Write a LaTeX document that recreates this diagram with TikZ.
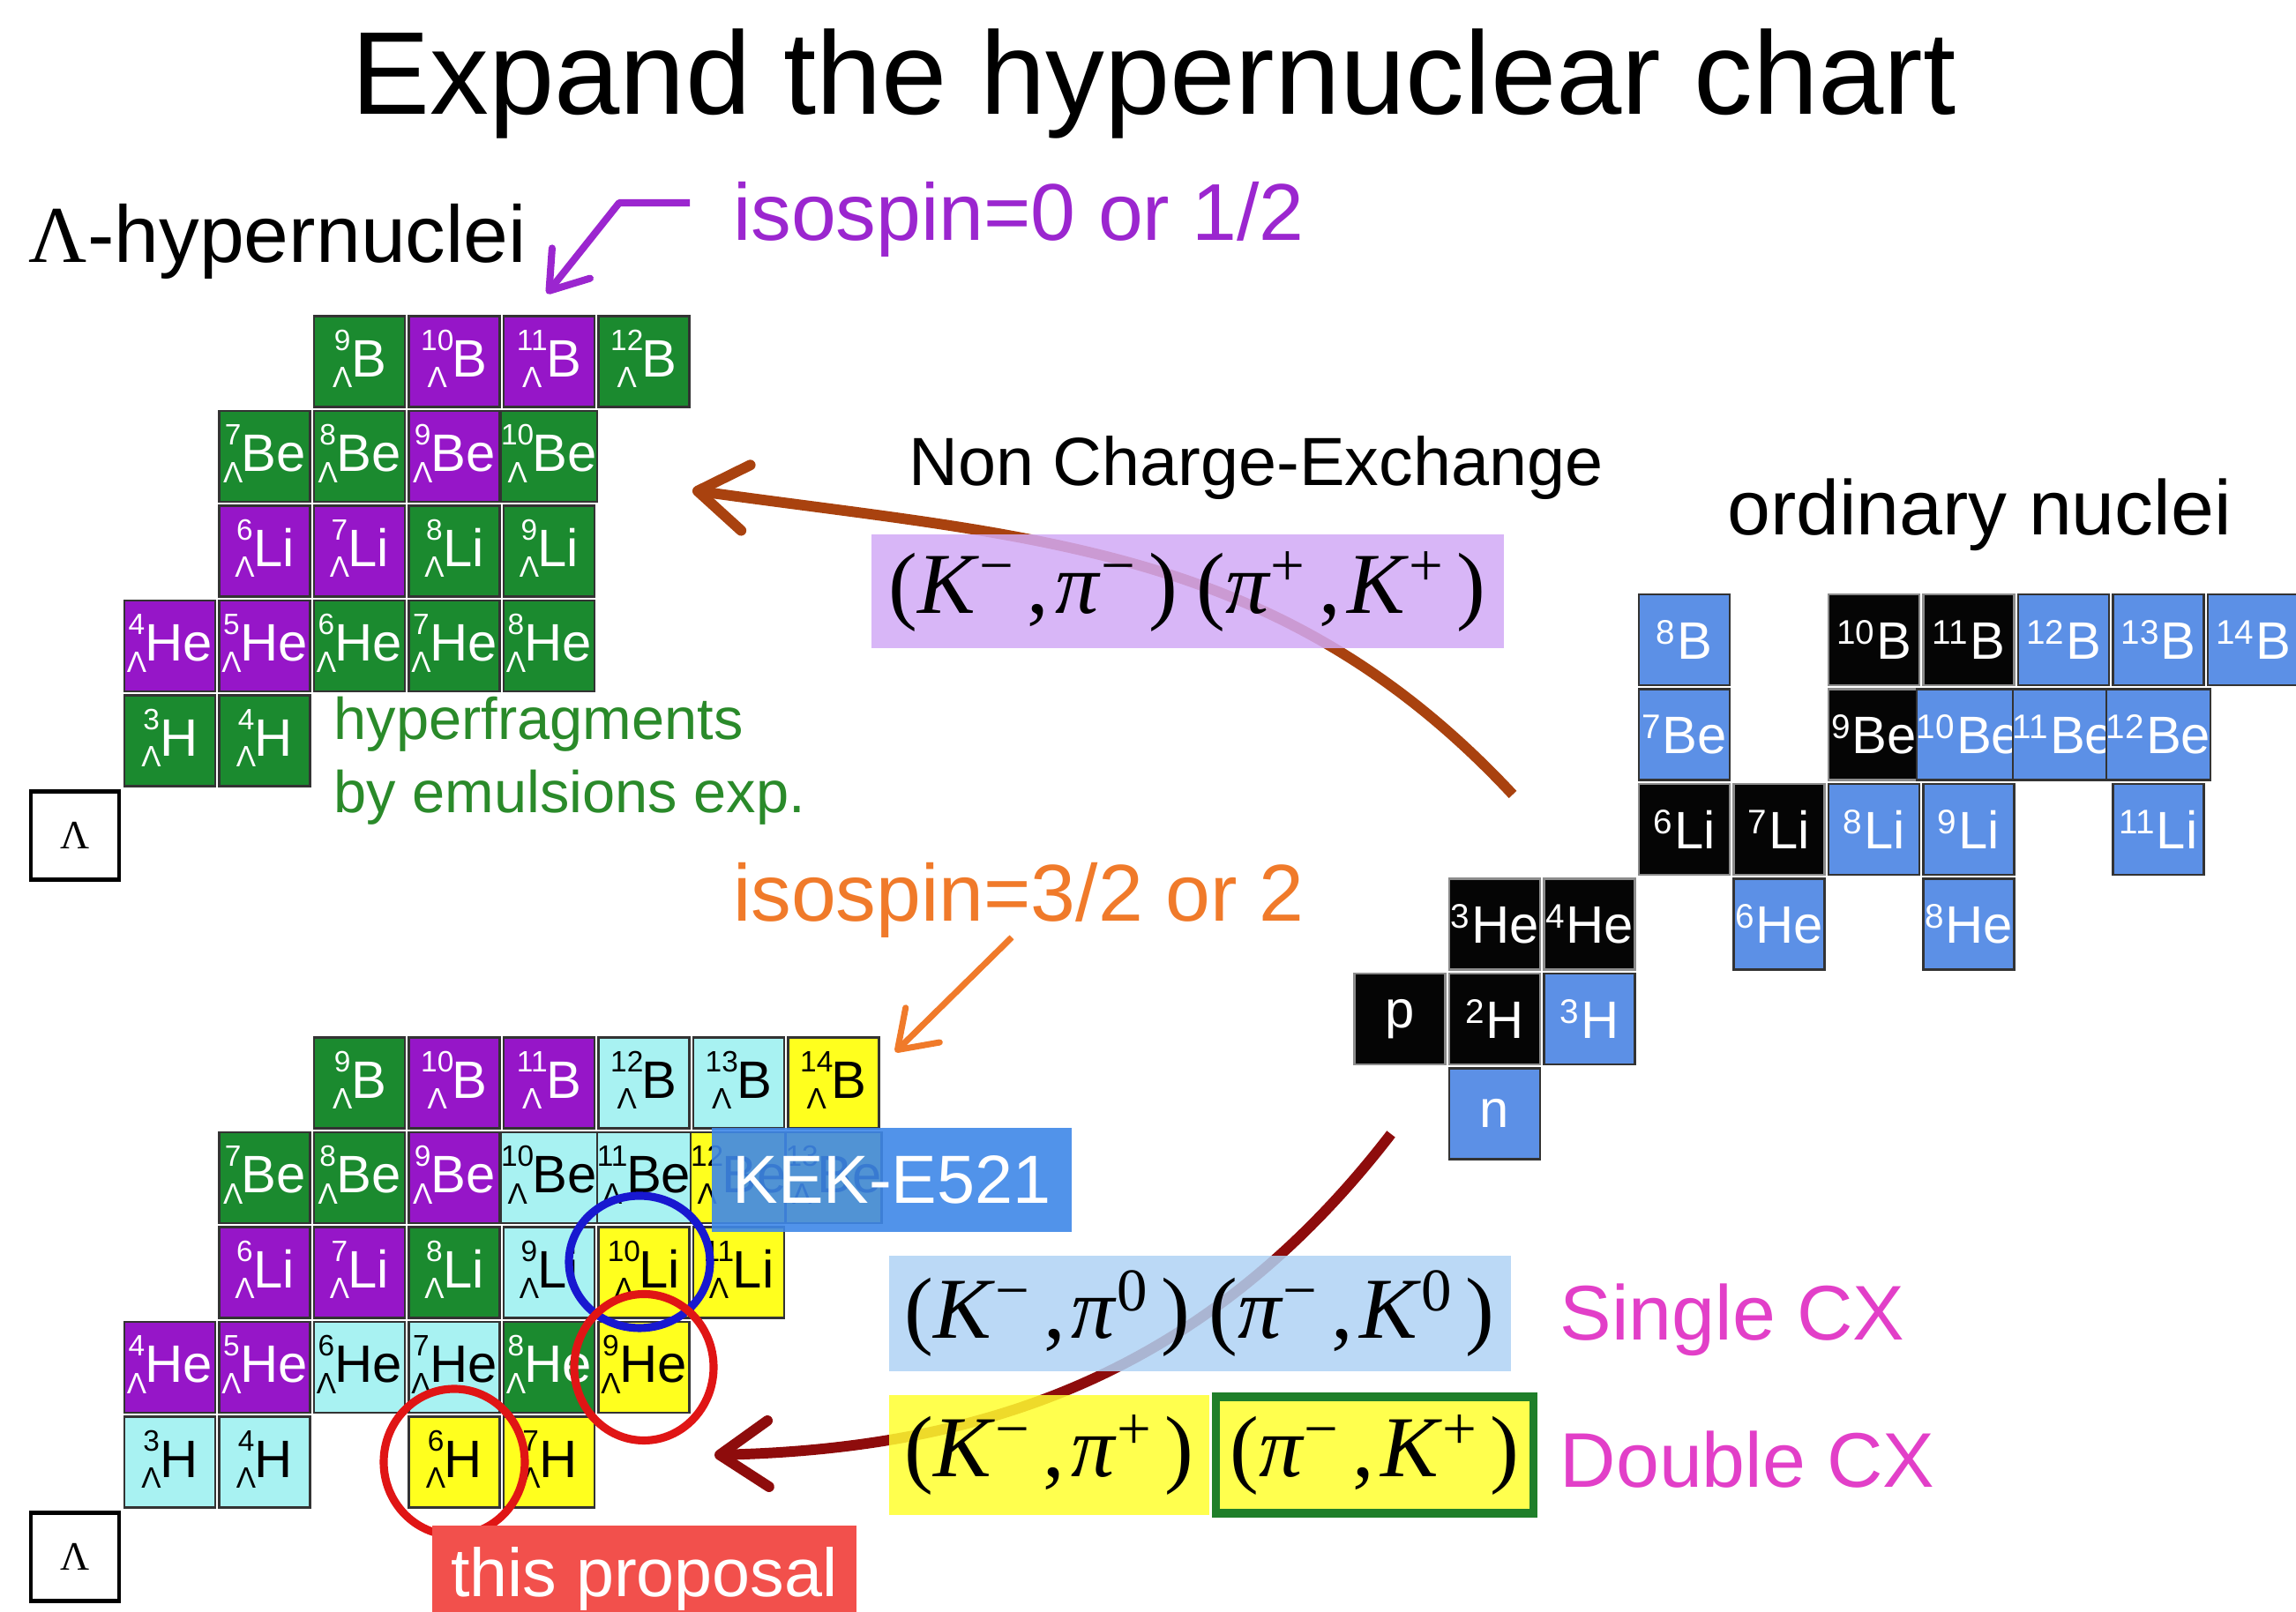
\documentclass[tikz,border=0pt]{standalone}
\usepackage{fontspec}
\setmainfont{Liberation Sans}
\newfontfamily\seriffont{Liberation Serif}
\usetikzlibrary{arrows.meta, backgrounds}

% hypernucleus label: mass number over Lambda, then element
\newcommand{\hyp}[2]{\raisebox{-3.6pt}{\fontsize{9.5}{12.2}\selectfont\begin{tabular}[b]{@{}c@{}}#1\\Λ\end{tabular}}\kern-0.4pt#2}
% ordinary nucleus label
\newcommand{\nuc}[2]{\raisebox{4.8pt}{\fontsize{11}{12}\selectfont #1}\kern0.6pt#2}
% reaction (a,b)
\newcommand{\reac}[4]{(\textit{#1}\textsuperscript{#2}\kern4pt,\kern2pt\textit{#3}\textsuperscript{#4}\kern4pt)}

\begin{document}
\begin{tikzpicture}[
    >=Stealth,
    cell/.style={rectangle, draw=black!80, line width=0.7pt, fill=#1, minimum width=1.03cm, minimum height=1.03cm, inner sep=0pt, font=\fontsize{17}{19}\selectfont},
    hgrn/.style={cell=cGrn, text=white},
    hpur/.style={cell=cPur, text=white},
    hcya/.style={cell=cCya, text=black},
    hyel/.style={cell=cYel, text=black},
    oblu/.style={cell=cBlu, text=white},
    oblk/.style={cell=cBlk, draw=black!45, text=white},
    lbox/.style={rectangle, draw=black, line width=1.2pt, fill=white, minimum width=1.0cm, minimum height=1.0cm, font=\seriffont\fontsize{13}{15}\selectfont},
    rxbox/.style={rectangle, inner sep=0pt, fill=#1, fill opacity=0.85, text opacity=1, font=\seriffont\fontsize{28}{30}\selectfont},
    bigarrow/.style={-{Straight Barb[length=0.55cm, width=0.75cm, round]}, line width=3.4pt, draw=#1},
    isoarrow/.style={-{Straight Barb[length=0.4cm, width=0.55cm, round]}, line width=2.3pt, draw=#1, line join=round},
    ring/.style={draw=#1, line width=2.6pt},
]

\definecolor{cGrn}{HTML}{1B8A2F}   % hyperfragments
\definecolor{cPur}{HTML}{9616C8}   % isospin 0, 1/2
\definecolor{cCya}{HTML}{A8F2F2}   % single CX
\definecolor{cYel}{HTML}{FFFF1E}   % double CX
\definecolor{cBlu}{HTML}{5C90E6}   % unstable nuclei
\definecolor{cBlk}{HTML}{050505}   % stable nuclei
\definecolor{cIso}{HTML}{9B26CF}
\definecolor{cOrg}{HTML}{F07A2A}
\definecolor{cFrag}{HTML}{2A8A2A}
\definecolor{cNcxBox}{HTML}{D2AAF6}
\definecolor{cScxBox}{HTML}{B0D3F5}
\definecolor{cDcxBox}{HTML}{FFFF30}
\definecolor{cFrame}{HTML}{1F7F2A}
\definecolor{cCx}{HTML}{E23FC8}
\definecolor{cNcx}{HTML}{A9420F}
\definecolor{cDcx}{HTML}{8E0C0C}
\definecolor{cRing}{HTML}{E01515}
\definecolor{cRingB}{HTML}{1818D0}
\definecolor{cKek}{HTML}{3F88E8}
\definecolor{cProp}{HTML}{F2504C}

\useasboundingbox (0,0) rectangle (26.03,18.28);

\node[font=\fontsize{38}{42}\selectfont] (title) at (13.08, 17.33) {Expand the hypernuclear chart};
\node[font=\fontsize{26}{30}\selectfont] (lamhyp) at (3.15, 15.54) {{\seriffont Λ}-hypernuclei};
\node[font=\fontsize{26}{30}\selectfont, text=cIso] (isolow) at (11.55, 15.79) {isospin=0 or 1/2};

% top chart: known hypernuclei
\node[lbox] (tL) at (0.85, 8.805) {Λ};
\node[hgrn] (t3H) at (1.925, 9.88) {\hyp{3}{H}};
\node[hgrn] (t4H) at (3.0, 9.88) {\hyp{4}{H}};
\node[hpur] (t4He) at (1.925, 10.955) {\hyp{4}{He}};
\node[hpur] (t5He) at (3.0, 10.955) {\hyp{5}{He}};
\node[hgrn] (t6He) at (4.075, 10.955) {\hyp{6}{He}};
\node[hgrn] (t7He) at (5.15, 10.955) {\hyp{7}{He}};
\node[hgrn] (t8He) at (6.225, 10.955) {\hyp{8}{He}};
\node[hpur] (t6Li) at (3.0, 12.03) {\hyp{6}{Li}};
\node[hpur] (t7Li) at (4.075, 12.03) {\hyp{7}{Li}};
\node[hgrn] (t8Li) at (5.15, 12.03) {\hyp{8}{Li}};
\node[hgrn] (t9Li) at (6.225, 12.03) {\hyp{9}{Li}};
\node[hgrn] (t7Be) at (3.0, 13.105) {\hyp{7}{Be}};
\node[hgrn] (t8Be) at (4.075, 13.105) {\hyp{8}{Be}};
\node[hpur] (t9Be) at (5.15, 13.105) {\hyp{9}{Be}};
\node[hgrn] (t10Be) at (6.225, 13.105) {\hyp{10}{Be}};
\node[hgrn] (t9B) at (4.075, 14.18) {\hyp{9}{B}};
\node[hpur] (t10B) at (5.15, 14.18) {\hyp{10}{B}};
\node[hpur] (t11B) at (6.225, 14.18) {\hyp{11}{B}};
\node[hgrn] (t12B) at (7.30, 14.18) {\hyp{12}{B}};

\node[font=\fontsize{19}{23.5}\selectfont, text=cFrag, align=left, anchor=west, inner sep=0pt] (frag) at (3.78, 9.65) {hyperfragments\\by emulsions exp.};

% bottom chart: with charge exchange
\node[lbox] (bL) at (0.85, 0.625) {Λ};
\node[hcya] (b3H) at (1.925, 1.70) {\hyp{3}{H}};
\node[hcya] (b4H) at (3.0, 1.70) {\hyp{4}{H}};
\node[hyel] (b6H) at (5.15, 1.70) {\hyp{6}{H}};
\node[hyel] (b7H) at (6.225, 1.70) {\hyp{7}{H}};
\node[hpur] (b4He) at (1.925, 2.775) {\hyp{4}{He}};
\node[hpur] (b5He) at (3.0, 2.775) {\hyp{5}{He}};
\node[hcya] (b6He) at (4.075, 2.775) {\hyp{6}{He}};
\node[hcya] (b7He) at (5.15, 2.775) {\hyp{7}{He}};
\node[hgrn] (b8He) at (6.225, 2.775) {\hyp{8}{He}};
\node[hyel] (b9He) at (7.30, 2.775) {\hyp{9}{He}};
\node[hpur] (b6Li) at (3.0, 3.85) {\hyp{6}{Li}};
\node[hpur] (b7Li) at (4.075, 3.85) {\hyp{7}{Li}};
\node[hgrn] (b8Li) at (5.15, 3.85) {\hyp{8}{Li}};
\node[hcya] (b9Li) at (6.225, 3.85) {\hyp{9}{Li}};
\node[hyel] (b10Li) at (7.30, 3.85) {\hyp{10}{Li}};
\node[hyel] (b11Li) at (8.375, 3.85) {\hyp{11}{Li}};
\node[hgrn] (b7Be) at (3.0, 4.925) {\hyp{7}{Be}};
\node[hgrn] (b8Be) at (4.075, 4.925) {\hyp{8}{Be}};
\node[hpur] (b9Be) at (5.15, 4.925) {\hyp{9}{Be}};
\node[hcya] (b10Be) at (6.225, 4.925) {\hyp{10}{Be}};
\node[hcya] (b11Be) at (7.30, 4.925) {\hyp{11}{Be}};
\node[hyel] (b12Be) at (8.375, 4.925) {\hyp{12}{Be}};
\node[hyel] (b13Be) at (9.45, 4.925) {\hyp{13}{Be}};
\node[hgrn] (b9B) at (4.075, 6.0) {\hyp{9}{B}};
\node[hpur] (b10B) at (5.15, 6.0) {\hyp{10}{B}};
\node[hpur] (b11B) at (6.225, 6.0) {\hyp{11}{B}};
\node[hcya] (b12B) at (7.30, 6.0) {\hyp{12}{B}};
\node[hcya] (b13B) at (8.375, 6.0) {\hyp{13}{B}};
\node[hyel] (b14B) at (9.45, 6.0) {\hyp{14}{B}};

\node[fill=cKek, fill opacity=0.9, text opacity=1, text=white, minimum width=4.08cm, minimum height=1.18cm, inner sep=0pt, font=\fontsize{22}{24}\selectfont] (kek) at (10.11, 4.90) {KEK-E521};

\draw[ring=cRingB] ([shift={(-0.05,0.12)}]b10Li.center) ellipse [x radius=0.80cm, y radius=0.75cm];
\draw[ring=cRing] (b9He.center) ellipse [x radius=0.79cm, y radius=0.83cm];
\draw[ring=cRing] (b6H.center) ellipse [x radius=0.80cm, y radius=0.83cm];

\node[fill=cProp, text=white, minimum width=4.81cm, minimum height=1.22cm, inner sep=0pt, font=\fontsize{22}{24}\selectfont] (prop) at (7.305, 0.37) {this proposal};

% ordinary nuclear chart
\node[font=\fontsize{25}{28}\selectfont] (ordlabel) at (22.44, 12.44) {ordinary nuclei};
\node[oblu] (on) at (16.945, 5.651) {n};
\node[oblk] (op) at (15.87, 6.726) {p};
\node[oblk] (o2H) at (16.945, 6.726) {\nuc{2}{H}};
\node[oblu] (o3H) at (18.02, 6.726) {\nuc{3}{H}};
\node[oblk] (o3He) at (16.945, 7.801) {\nuc{3}{He}};
\node[oblk] (o4He) at (18.02, 7.801) {\nuc{4}{He}};
\node[oblu] (o6He) at (20.17, 7.801) {\nuc{6}{He}};
\node[oblu] (o8He) at (22.32, 7.801) {\nuc{8}{He}};
\node[oblk] (o6Li) at (19.095, 8.876) {\nuc{6}{Li}};
\node[oblk] (o7Li) at (20.17, 8.876) {\nuc{7}{Li}};
\node[oblu] (o8Li) at (21.245, 8.876) {\nuc{8}{Li}};
\node[oblu] (o9Li) at (22.32, 8.876) {\nuc{9}{Li}};
\node[oblu] (o11Li) at (24.47, 8.876) {\nuc{11}{Li}};
\node[oblu] (o7Be) at (19.095, 9.951) {\nuc{7}{Be}};
\node[oblk] (o9Be) at (21.245, 9.951) {\nuc{9}{Be}};
\node[oblu] (o10Be) at (22.32, 9.951) {\nuc{10}{Be}};
\node[oblu] (o11Be) at (23.395, 9.951) {\nuc{11}{Be}};
\node[oblu] (o12Be) at (24.47, 9.951) {\nuc{12}{Be}};
\node[oblu] (o8B) at (19.095, 11.026) {\nuc{8}{B}};
\node[oblk] (o10B) at (21.245, 11.026) {\nuc{10}{B}};
\node[oblk] (o11B) at (22.32, 11.026) {\nuc{11}{B}};
\node[oblu] (o12B) at (23.395, 11.026) {\nuc{12}{B}};
\node[oblu] (o13B) at (24.47, 11.026) {\nuc{13}{B}};
\node[oblu] (o14B) at (25.545, 11.026) {\nuc{14}{B}};

% reactions
\node[font=\fontsize{22}{24}\selectfont] (ncxlabel) at (14.24, 12.97) {Non Charge-Exchange};
\node[rxbox=cNcxBox, minimum width=7.17cm, minimum height=1.29cm] (ncx) at (13.46, 11.57) {\reac{K}{−}{π}{−}\kern6pt\reac{π}{+}{K}{+}};
\node[font=\fontsize{26}{30}\selectfont, text=cOrg] (isohigh) at (11.55, 8.07) {isospin=3/2 or 2};
\node[rxbox=cScxBox, minimum width=7.05cm, minimum height=1.31cm] (scx) at (13.6, 3.385) {\reac{K}{−}{π}{0}\kern6pt\reac{π}{−}{K}{0}};
\node[rxbox=cDcxBox, minimum width=3.63cm, minimum height=1.36cm] (dcxa) at (11.895, 1.78) {\reac{K}{−}{π}{+}};
\node[rxbox=cDcxBox, draw=cFrame, line width=2.6pt, minimum width=3.6cm, minimum height=1.32cm] (dcxb) at (15.585, 1.78) {\reac{π}{−}{K}{+}};
\node[font=\fontsize{25}{28}\selectfont, text=cCx, anchor=west, inner sep=0pt] (single) at (17.68, 3.31) {Single CX};
\node[font=\fontsize{25}{28}\selectfont, text=cCx, anchor=west, inner sep=0pt] (double) at (17.68, 1.73) {Double CX};

\coordinate (isolowstart) at (7.82, 15.98);
\coordinate (isolowbend) at (7.02, 15.98);
\coordinate (isolowtip) at (6.20, 14.95);
\coordinate (isohighstart) at (11.47, 7.65);
\coordinate (isohightip) at (10.15, 6.35);
\coordinate (ncxstart) at (17.15, 9.27);
\coordinate (ncxtip) at (7.85, 12.72);
\coordinate (dcxstart) at (15.77, 5.42);
\coordinate (dcxtip) at (8.10, 1.78);

\draw[isoarrow=cIso] (isolowstart) -- (isolowbend) -- (isolowtip);
\draw[isoarrow=cOrg, line width=2pt] (isohighstart) -- (isohightip);

\begin{scope}[on background layer]
    \fill[white] (0,0) rectangle (26.03,18.28);
    \draw[bigarrow=cNcx] (ncxstart) to[out=133, in=-8] (ncxtip);
    \draw[bigarrow=cDcx] (dcxstart) .. controls (13.6, 2.6) and (11.0, 1.85) .. (dcxtip);
\end{scope}

\end{tikzpicture}
\end{document}
